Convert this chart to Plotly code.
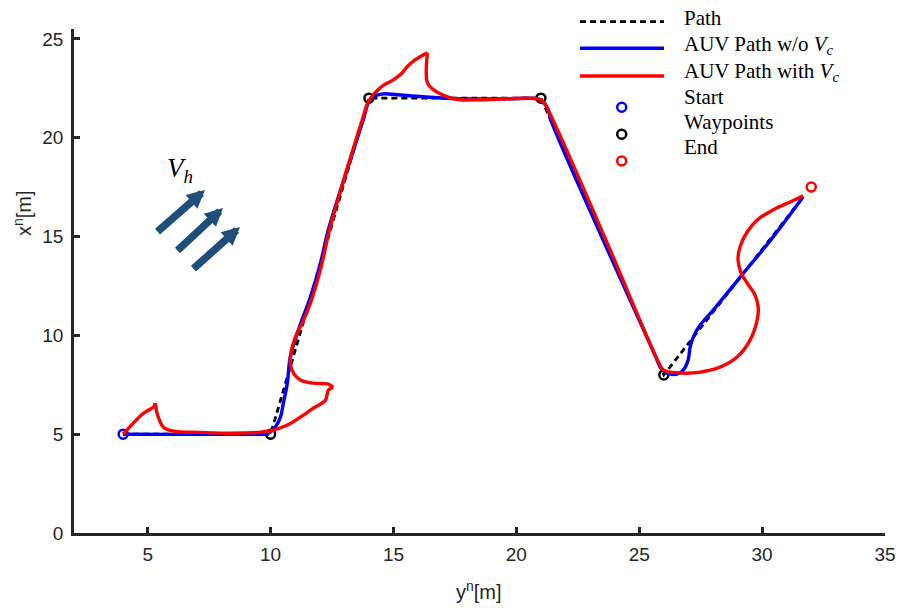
import plotly.graph_objects as go

# ---------------- data ----------------
start_x = [4]
start_y = [5]
wp_x = [10, 14, 21, 26]
wp_y = [5, 22, 22, 8]
end_x = [32]
end_y = [17.5]

path_x = [4, 10, 14, 21, 26, 31.7]
path_y = [5, 5, 22, 22, 8, 17.05]

# AUV path without current
blue_x = [4, 9.3, 9.87, 10.19, 10.40, 10.52, 10.68, 10.80, 11.13, 11.62, 12.03, 12.35,
          13.77, 13.98, 14.18, 14.59, 15.16, 16.21, 17.6, 19.63, 20.85, 21.09, 21.30,
          21.40, 25.66, 25.88, 26.14, 26.54, 26.79, 26.99, 27.07, 27.2, 27.48, 28.01,
          29.11, 30.45, 31.67]
blue_y = [5, 5.0, 5.02, 5.36, 5.86, 6.57, 7.58, 8.90, 10.27, 11.94, 13.66, 15.34,
          20.91, 21.77, 22.07, 22.22, 22.17, 22.07, 21.97, 21.97, 21.97, 21.82, 21.40,
          20.91, 8.95, 8.34, 8.09, 8.04, 8.24, 8.75, 9.40, 9.91, 10.52, 11.28,
          12.95, 14.98, 17.01]

# AUV path with current
red_x = [4, 4.83, 5.23, 5.31, 5.40, 5.64, 6.05, 7.15, 8.37, 9.59, 10.11, 10.68,
         11.21, 11.74, 12.23, 12.35, 12.55, 12.31, 11.74, 11.21, 10.93, 10.80, 10.85,
         11.01, 11.34, 11.62, 11.91, 12.15, 12.39, 13.73, 13.98, 14.46, 14.99, 15.36,
         15.56, 15.89, 16.38, 16.38, 16.62, 17.19, 17.72, 18.53, 19.63, 20.85, 21.09,
         21.48, 23.72, 25.80, 25.99, 26.79, 27.48, 28.29, 28.98, 29.51, 29.80, 29.84,
         29.71, 29.39, 29.15, 29.02, 29.10, 29.39, 29.80, 30.45, 31.14, 31.67]
red_y = [5, 6.06, 6.37, 6.57, 5.97, 5.35, 5.15, 5.09, 5.05, 5.10, 5.20, 5.46,
         5.86, 6.32, 6.72, 7.23, 7.38, 7.54, 7.58, 7.74, 8.09, 8.60, 9.25,
         9.91, 10.77, 11.63, 12.80, 13.96, 15.32, 20.91, 21.82, 22.53, 22.93, 23.29,
         23.59, 23.95, 24.30, 22.78, 22.43, 22.07, 21.92, 21.92, 21.97, 21.97, 21.82,
         20.91, 14.6, 8.60, 8.24, 8.09, 8.14, 8.39, 8.90, 9.76, 10.78, 11.43,
         12.04, 12.65, 13.15, 13.81, 14.47, 15.23, 15.84, 16.35, 16.75, 17.06]
red_cusps = [3, 16, 36]

x_ticks = [5, 10, 15, 20, 25, 30, 35]
y_ticks = [0, 5, 10, 15, 20, 25]

# ---------------- layout helpers ----------------
FW, FH = 899, 608
L, R, T, B = 74, 14, 29, 75
W = FW - L - R
H = FH - T - B


def pxx(p):
    return (p - L) / W


def pyy(p):
    return (FH - B - p) / H


AX = "#262626"
LW = 3.4
fig = go.Figure()

mk = dict(size=9, symbol="circle-open", line=dict(width=2.5))
fig.add_trace(go.Scatter(x=start_x, y=start_y, mode="markers",
                         marker=dict(mk, color="#0000FF"), showlegend=False))
fig.add_trace(go.Scatter(x=wp_x, y=wp_y, mode="markers",
                         marker=dict(mk, color="black"), showlegend=False))
fig.add_trace(go.Scatter(x=end_x, y=end_y, mode="markers",
                         marker=dict(mk, color="#FF0000"), showlegend=False))

fig.add_trace(go.Scatter(x=path_x, y=path_y, mode="lines",
                         line=dict(color="black", width=2.8, dash="6px,4px"),
                         showlegend=False))
fig.add_trace(go.Scatter(x=blue_x, y=blue_y, mode="lines",
                         line=dict(color="#0000FF", width=LW, shape="spline", smoothing=1.0),
                         showlegend=False))

bounds = [0] + red_cusps + [len(red_x) - 1]
for a, b in zip(bounds[:-1], bounds[1:]):
    fig.add_trace(go.Scatter(x=red_x[a:b + 1], y=red_y[a:b + 1], mode="lines",
                             line=dict(color="#FF0000", width=LW, shape="spline",
                                       smoothing=1.0),
                             showlegend=False))

shapes = []
annotations = []

# manual legend
leg_lines = [(21.7, dict(color="black", width=2.8, dash="6px,4px")),
             (48.3, dict(color="#0000FF", width=LW)),
             (76.0, dict(color="#FF0000", width=LW))]
for yy, ln in leg_lines:
    shapes.append(dict(type="line", xref="paper", yref="paper",
                       x0=pxx(580), x1=pxx(664), y0=pyy(yy), y1=pyy(yy), line=ln))
for yy, col in [(107.3, "#0000FF"), (134.3, "black"), (161.0, "#FF0000")]:
    shapes.append(dict(type="circle", xref="paper", yref="paper",
                       xsizemode="pixel", ysizemode="pixel",
                       xanchor=pxx(621.7), yanchor=pyy(yy),
                       x0=-4.5, x1=4.5, y0=-4.5, y1=4.5,
                       line=dict(color=col, width=2.5)))
leg_texts = [("Path", 18.3), ("AUV Path w/o <i>V<sub>c</sub></i>", 45.0),
             ("AUV Path with <i>V<sub>c</sub></i>", 71.7), ("Start", 96.7),
             ("Waypoints", 121.7), ("End", 146.7)]
for txt, yy in leg_texts:
    annotations.append(dict(text=txt, xref="paper", yref="paper", x=pxx(682),
                            y=pyy(yy), xanchor="left", yanchor="middle",
                            showarrow=False,
                            font=dict(family="Liberation Serif", size=21, color="black")))

# current arrows
for tip, tail in [((205, 190), (156, 233)), ((223, 208), (176, 252)),
                  ((240, 227), (192, 270))]:
    annotations.append(dict(text="", xref="paper", yref="paper",
                            x=pxx(tip[0]), y=pyy(tip[1]),
                            ax=tail[0] - tip[0], ay=tail[1] - tip[1],
                            showarrow=True, arrowhead=2, arrowsize=0.48,
                            arrowwidth=7.5, arrowcolor="#1f4e7a", standoff=0))
annotations.append(dict(text="<i>V<sub>h</sub></i>", xref="paper", yref="paper",
                        x=pxx(180), y=pyy(170), xanchor="center", yanchor="middle",
                        showarrow=False,
                        font=dict(family="Liberation Serif", size=27, color="black")))

# axis titles
annotations.append(dict(text="y<sup>n</sup>[m]", xref="paper", yref="paper",
                        x=pxx(479), y=pyy(590), xanchor="center", yanchor="middle",
                        showarrow=False,
                        font=dict(family="Liberation Sans", size=20, color=AX)))
annotations.append(dict(text="x<sup>n</sup>[m]", xref="paper", yref="paper",
                        x=pxx(22), y=pyy(213), xanchor="center", yanchor="middle",
                        textangle=-90, showarrow=False,
                        font=dict(family="Liberation Sans", size=20, color=AX)))

axis_common = dict(showline=True, linecolor=AX, linewidth=2.5, ticks="inside",
                   ticklen=6, tickwidth=2.5, tickcolor=AX, showgrid=False,
                   zeroline=False, mirror=False, automargin=False,
                   tickfont=dict(family="Liberation Sans", size=19, color=AX))

fig.update_layout(
    width=FW, height=FH,
    margin=dict(l=L, r=R, t=T, b=B, autoexpand=False),
    plot_bgcolor="white", paper_bgcolor="white",
    showlegend=False,
    xaxis=dict(axis_common, range=[2, 35], tickvals=x_ticks, ticklabelstandoff=2),
    yaxis=dict(axis_common, range=[0, 25.5], tickvals=y_ticks, ticklabelstandoff=4),
    shapes=shapes, annotations=annotations,
)

fig.write_html("out.html",
               config={"displayModeBar": False},
               post_script="document.body.style.margin='0px';"
                           "document.body.style.overflow='hidden';")
